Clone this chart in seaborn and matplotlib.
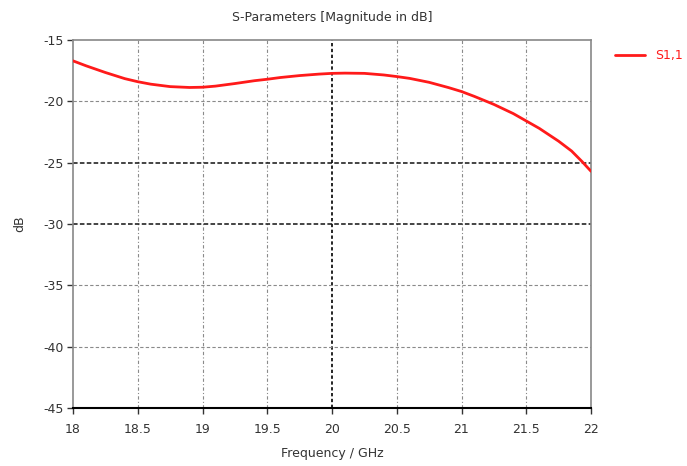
import numpy as np
import pandas as pd
import matplotlib
matplotlib.use("Agg")
import matplotlib.pyplot as plt
import seaborn as sns

# S1,1 magnitude (GHz, dB)
freq_ghz = [18.0, 18.1, 18.25, 18.4, 18.5, 18.6, 18.75, 18.9, 19.0, 19.1, 19.25,
            19.4, 19.5, 19.6, 19.75, 19.9, 20.0, 20.1, 20.25, 20.4, 20.5, 20.6,
            20.75, 20.9, 21.0, 21.1, 21.25, 21.4, 21.5, 21.6, 21.75, 21.85, 21.93, 22.0]
s11_db = [-16.7, -17.1, -17.65, -18.15, -18.4, -18.6, -18.8, -18.87, -18.85, -18.76, -18.55,
          -18.32, -18.2, -18.06, -17.9, -17.78, -17.72, -17.7, -17.72, -17.85, -17.98, -18.13,
          -18.45, -18.88, -19.2, -19.6, -20.25, -21.0, -21.6, -22.2, -23.25, -24.05, -24.9, -25.7]

x_ticks = [18, 18.5, 19, 19.5, 20, 20.5, 21, 21.5, 22]
y_ticks = [-45, -40, -35, -30, -25, -20, -15]
bold_y = [-25, -30]
bold_x = [20]

sns.set_style("white")
plt.rcParams['font.family'] = ['DejaVu Sans']

df = pd.DataFrame({"freq": freq_ghz, "s11": s11_db})

fig = plt.figure(figsize=(6.87, 4.66), dpi=100)
ax = fig.add_axes([73 / 687, 1 - 408 / 466, (591 - 73) / 687, (408 - 40) / 466])

# grid
for xv in x_ticks[1:-1]:
    if xv in bold_x:
        ax.axvline(xv, color='black', lw=1.2, ls=(0, (2, 1.5)), zorder=1)
    else:
        ax.axvline(xv, color='#8a8a8a', lw=0.8, ls=(0, (3, 2, 1, 2)), zorder=1)
for yv in y_ticks[1:-1]:
    if yv in bold_y:
        ax.axhline(yv, color='#111111', lw=1.1, ls=(0, (3, 1.5)), zorder=1)
    else:
        ax.axhline(yv, color='#8a8a8a', lw=0.8, ls=(0, (3, 2)), zorder=1)

sns.lineplot(data=df, x="freq", y="s11", ax=ax, color='#ff1a1a', lw=2.0,
             label='S1,1', zorder=3)

ax.set_xlim(18, 22)
ax.set_ylim(-45, -15)
ax.set_xticks(x_ticks)
ax.set_xticklabels([f"{v:g}" for v in x_ticks])
ax.set_yticks(y_ticks)
ax.set_yticklabels([f"{v:g}" for v in y_ticks])
ax.tick_params(axis='both', labelsize=9, colors='#333333', length=4, width=1,
               direction='out', left=True, bottom=True)
ax.tick_params(axis='x', pad=7)
ax.tick_params(axis='y', pad=3)

for side in ['left', 'right', 'top']:
    ax.spines[side].set_color('#888888')
    ax.spines[side].set_linewidth(1.2)
ax.spines['bottom'].set_color('black')
ax.spines['bottom'].set_linewidth(1.5)

ax.set_xlabel('Frequency / GHz', fontsize=9, color='#333333', labelpad=8)
ax.set_ylabel('dB', fontsize=9, color='#333333', labelpad=12)
ax.set_title('S-Parameters [Magnitude in dB]', fontsize=9, color='#333333', pad=14)

leg = ax.legend(loc='upper left', bbox_to_anchor=(1.025, 1.005), frameon=False,
                fontsize=9, handlelength=2.4, handletextpad=0.8)
for t in leg.get_texts():
    t.set_color('#ff1a1a')

fig.savefig('out.png', dpi=100)
